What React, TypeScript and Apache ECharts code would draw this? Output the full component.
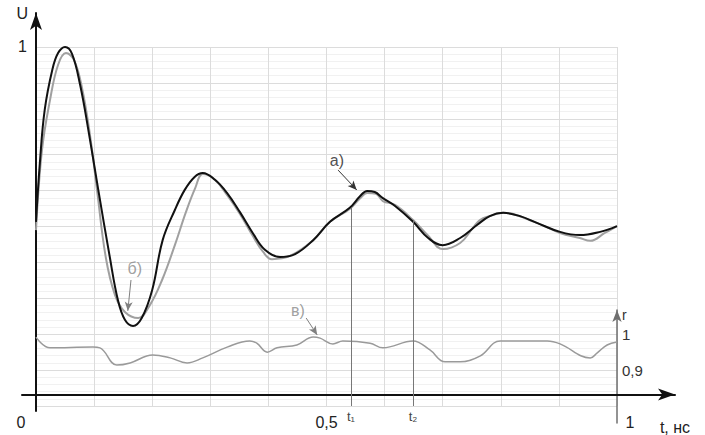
import React, { useEffect, useRef } from "react";
import * as echarts from "echarts";

// Curve а) (black)
const tA = [0, 0.007, 0.015, 0.028, 0.038, 0.05, 0.062, 0.076, 0.09, 0.107, 0.127, 0.141, 0.153, 0.167, 0.182, 0.2, 0.218, 0.239, 0.256, 0.273, 0.287, 0.308, 0.329, 0.351, 0.373, 0.394, 0.42, 0.446, 0.477, 0.506, 0.54, 0.558, 0.57, 0.583, 0.597, 0.618, 0.649, 0.675, 0.7, 0.73, 0.759, 0.781, 0.804, 0.833, 0.862, 0.902, 0.936, 0.971, 1.0];
const uA = [0.513, 0.685, 0.825, 0.936, 0.983, 1.0, 0.981, 0.894, 0.77, 0.604, 0.415, 0.295, 0.24, 0.223, 0.245, 0.323, 0.462, 0.546, 0.602, 0.638, 0.649, 0.63, 0.593, 0.54, 0.482, 0.435, 0.415, 0.423, 0.462, 0.513, 0.552, 0.585, 0.599, 0.596, 0.579, 0.557, 0.513, 0.468, 0.448, 0.468, 0.504, 0.529, 0.538, 0.529, 0.51, 0.485, 0.476, 0.485, 0.501];

// Curve б) (gray)
const tB = [0, 0.0103, 0.0241, 0.0379, 0.0516, 0.0654, 0.0792, 0.0929, 0.105, 0.12, 0.136, 0.153, 0.176, 0.196, 0.217, 0.239, 0.258, 0.274, 0.287, 0.308, 0.33, 0.351, 0.373, 0.391, 0.406, 0.437, 0.477, 0.506, 0.54, 0.558, 0.57, 0.585, 0.597, 0.618, 0.649, 0.675, 0.7, 0.73, 0.752, 0.764, 0.781, 0.804, 0.862, 0.902, 0.936, 0.954, 0.979, 1.0];
const uB = [0.49, 0.713, 0.852, 0.95, 0.983, 0.964, 0.886, 0.755, 0.602, 0.415, 0.309, 0.262, 0.245, 0.281, 0.351, 0.448, 0.54, 0.607, 0.646, 0.63, 0.585, 0.535, 0.474, 0.429, 0.409, 0.418, 0.462, 0.513, 0.549, 0.579, 0.593, 0.591, 0.571, 0.56, 0.518, 0.474, 0.437, 0.454, 0.496, 0.518, 0.529, 0.538, 0.51, 0.482, 0.468, 0.46, 0.482, 0.501];

// Curve в) (r scale)
const tV = [0, 0.024, 0.098, 0.11, 0.139, 0.162, 0.201, 0.231, 0.26, 0.287, 0.329, 0.368, 0.38, 0.398, 0.415, 0.449, 0.477, 0.489, 0.511, 0.528, 0.575, 0.597, 0.649, 0.678, 0.704, 0.73, 0.764, 0.799, 0.88, 0.902, 0.954, 0.966, 0.983, 1.0];
const rV = [0.992, 0.962, 0.964, 0.962, 0.914, 0.92, 0.942, 0.934, 0.92, 0.934, 0.964, 0.981, 0.975, 0.95, 0.962, 0.97, 0.992, 0.989, 0.973, 0.981, 0.975, 0.962, 0.981, 0.956, 0.923, 0.923, 0.939, 0.981, 0.981, 0.973, 0.934, 0.948, 0.97, 0.978];

// Time markers
const markerNames = ["t₁", "t₂"];
const markerT = [0.542, 0.649];
const markerU = [0.552, 0.518];

// Annotations: label, text position, arrow start, arrow end
const noteLabels = ["а)", "б)", "в)"];
const noteText = [[0.518, 0.685], [0.17, 0.384], [0.451, 0.267]];
const noteFrom = [[0.52, 0.657], [0.1635, 0.351], [0.465, 0.245]];
const noteTo = [[0.552, 0.602], [0.158, 0.265], [0.484, 0.198]];

const xTicks = [0, 0.5, 1];
const xTickLabels = ["0", "0,5", "1"];
const rTicks = [0.9, 1];
const rTickLabels = ["0,9", "1"];

const zip = (a: number[], b: number[]) => a.map((v, i) => [v, b[i]]);

export default function App() {
  const ref = useRef<HTMLDivElement>(null);
  useEffect(() => {
    const chart = echarts.init(ref.current!, null, { renderer: "svg" });
    const font = "Liberation Sans, Arial, sans-serif";
    const noteColors = ["#222", "#888", "#888"];
    const option: any = {
      animation: false,
      backgroundColor: "#fff",
      textStyle: { fontFamily: font },
      grid: [
        { left: 36, top: 47, width: 581, height: 359 },
        { left: 22, top: 13, width: 653, height: 410 },
        { left: 617, top: 310, width: 1, height: 113 },
      ],
      xAxis: [
        {
          gridIndex: 0, type: "value", min: 0, max: 1, interval: 0.1,
          axisLine: { show: false }, axisTick: { show: false }, axisLabel: { show: false },
          splitLine: { show: true, lineStyle: { color: "#dcdcdc", width: 1 } },
        },
        {
          gridIndex: 1, type: "value", min: -14 / 581, max: 639 / 581,
          axisLine: { show: true, onZero: true, symbol: ["none", "arrow"], symbolSize: [9, 17], lineStyle: { color: "#111", width: 2 } },
          axisTick: { show: false },
          splitLine: { show: false },
          axisLabel: {
            show: true, customValues: xTicks, margin: 3, fontSize: 16, color: "#222",
            formatter: (v: number) => {
              const i = xTicks.findIndex((x) => Math.abs(x - v) < 1e-6);
              const s = i >= 0 ? xTickLabels[i] : "";
              if (i === 0) return "{l|" + s + "}";
              if (i === 2) return "{r|" + s + "}";
              return s;
            },
            rich: {
              l: { fontSize: 16, color: "#222", padding: [0, 30, 0, 0] },
              r: { fontSize: 16, color: "#222", padding: [0, 0, 0, 26] },
            },
          },
          name: "t, нс", nameLocation: "end", nameGap: 0,
          nameTextStyle: { fontSize: 16, color: "#222", align: "center", verticalAlign: "top", padding: [25, 0, 0, 0] },
        },
        { gridIndex: 2, type: "value", min: 0, max: 1, show: false },
      ],
      yAxis: [
        {
          gridIndex: 0, type: "value", min: 0, max: 1, interval: 0.1,
          axisLine: { show: false }, axisTick: { show: false }, axisLabel: { show: false },
          splitLine: { show: true, lineStyle: { color: "#dcdcdc", width: 1 } },
          minorTick: { show: false, splitNumber: 5 },
          minorSplitLine: { show: true, lineStyle: { color: "#f1f1f1", width: 1 } },
        },
        { gridIndex: 0, type: "value", min: 0.8, max: 1.8, show: false },
        {
          gridIndex: 1, type: "value", min: -17 / 359, max: 393 / 359,
          axisLine: { show: true, onZero: true, symbol: ["none", "arrow"], symbolSize: [9, 17], lineStyle: { color: "#111", width: 2 } },
          axisTick: { show: false },
          splitLine: { show: false },
          axisLabel: { show: true, customValues: [1], formatter: () => "1", fontSize: 16, color: "#222", margin: -5 },
          name: "U", nameLocation: "end", nameGap: 0,
          nameTextStyle: { fontSize: 16, color: "#222", align: "right", verticalAlign: "middle", padding: [18, 8, 0, 0] },
        },
        {
          gridIndex: 2, type: "value", position: "left", min: 0.8 - 17 / 359, max: 0.8 + 96 / 359,
          axisLine: { show: true, onZero: false, symbol: ["none", "arrow"], symbolSize: [7, 12], lineStyle: { color: "#6f6f6f", width: 1.5 } },
          axisTick: { show: false },
          splitLine: { show: false },
          axisLabel: {
            show: true, inside: true, customValues: rTicks, margin: 5, fontSize: 15, color: "#333",
            formatter: (v: number) => {
              const i = rTicks.findIndex((x) => Math.abs(x - v) < 1e-6);
              return i >= 0 ? rTickLabels[i] : "";
            },
          },
          name: "r", nameLocation: "end", nameGap: 0,
          nameTextStyle: { fontSize: 14, color: "#333", align: "left", verticalAlign: "top", padding: [-2, 0, 0, 5] },
        },
      ],
      series: [
        {
          name: "б", type: "line", xAxisIndex: 0, yAxisIndex: 0, data: zip(tB, uB),
          smooth: 0.4, symbol: "none", lineStyle: { color: "#a0a0a0", width: 2 }, z: 3,
        },
        {
          name: "а", type: "line", xAxisIndex: 0, yAxisIndex: 0, data: zip(tA, uA),
          smooth: 0.4, symbol: "none", lineStyle: { color: "#111", width: 2 }, z: 4,
          markLine: {
            silent: true, symbol: ["none", "none"],
            lineStyle: { color: "#777", width: 1, type: "solid" },
            label: { show: true, position: "start", formatter: "{b}", color: "#444", fontSize: 13, distance: 4 },
            data: markerT.map((t, i) => [
              { coord: [t, 0], name: markerNames[i] },
              { coord: [t, markerU[i]] },
            ]),
          },
        },
        {
          name: "в", type: "line", xAxisIndex: 0, yAxisIndex: 1, data: zip(tV, rV),
          smooth: 0.4, symbol: "none", lineStyle: { color: "#9a9a9a", width: 1.5 }, z: 3,
        },
        {
          name: "notes", type: "scatter", xAxisIndex: 0, yAxisIndex: 0, symbolSize: 1,
          itemStyle: { color: "rgba(0,0,0,0)" }, silent: true, z: 5,
          data: noteText.map((p, i) => ({
            value: p,
            label: { show: true, position: "inside", formatter: noteLabels[i], color: noteColors[i], fontSize: 16 },
          })),
          markLine: {
            silent: true, symbol: ["none", "arrow"], symbolSize: [6, 9],
            label: { show: false },
            data: noteFrom.map((p, i) => [
              { coord: p, lineStyle: { color: i === 0 ? "#333" : "#808080", width: 1, type: "solid" } },
              { coord: noteTo[i] },
            ]),
          },
        },
      ],
    };
    chart.setOption(option);
    return () => chart.dispose();
  }, []);
  return <div ref={ref} style={{ position: "fixed", left: 0, top: 0, width: 705, height: 435, background: "#fff" }} />;
}
